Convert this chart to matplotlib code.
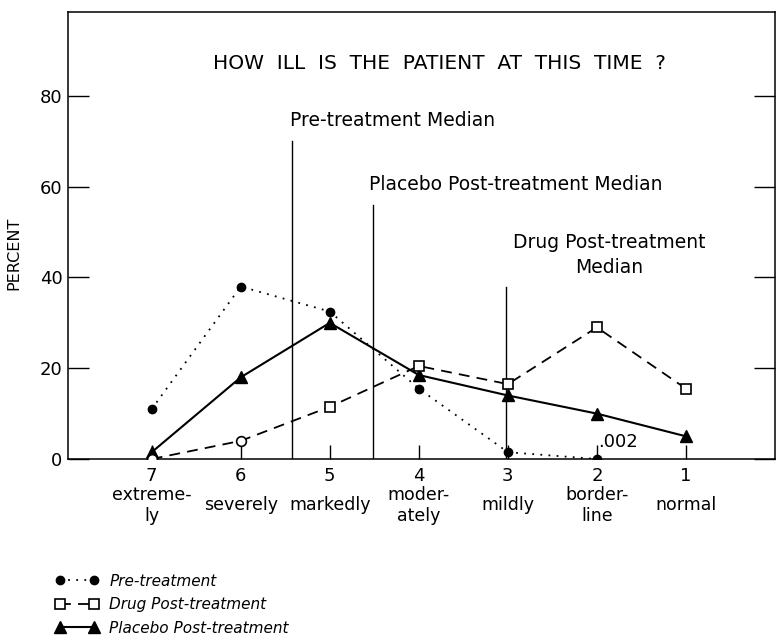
import matplotlib
matplotlib.use("Agg")
import matplotlib.pyplot as plt
from matplotlib.lines import Line2D
from matplotlib.transforms import blended_transform_factory

plt.rcParams['font.family'] = ['DejaVu Sans']

# ---- data ----
severity = [7, 6, 5, 4, 3, 2, 1]
tick_labels = ["7", "6", "5", "4", "3", "2", "1"]
categories = ["extreme-\nly", "severely", "markedly", "moder-\nately", "mildly", "border-\nline", "normal"]

pre_x = [7, 6, 5, 4, 3, 2]
pre_vals = [11, 38, 32.5, 15.5, 1.5, 0]

drug_vals = [0, 4, 11.5, 20.5, 16.5, 29, 15.5]
placebo_vals = [1.5, 18, 30, 18.5, 14, 10, 5]

medians = [5.42, 4.52, 3.02]          # pre, placebo, drug
median_tops = [70, 56, 38]
median_labels = ["Pre-treatment Median", "Placebo Post-treatment Median", "Drug Post-treatment\nMedian"]

yticks = [0, 20, 40, 60, 80]

# drug points drawn as open circles (first two) and open squares (rest), as in the original
drug_circle_idx = [0, 1]
drug_square_idx = [2, 3, 4, 5, 6]

fig = plt.figure(figsize=(7.77, 6.44), dpi=100)
ax = fig.add_axes([68/777, 1-459/644, (775-68)/777, (459-12)/644])

ax.set_xlim(7.94, 0.0)
ax.set_ylim(0, 98.5)

l_pre, = ax.plot(pre_x, pre_vals, linestyle=(0, (1, 3.5)), color='black', lw=1.3,
                 marker='o', markersize=6, markerfacecolor='black', label='Pre-treatment', zorder=3)

drug_style = dict(color='black', lw=1.3, linestyle=(0, (6, 4)))
ax.plot(severity, drug_vals, zorder=4, **drug_style)
ax.plot([severity[i] for i in drug_square_idx], [drug_vals[i] for i in drug_square_idx],
        linestyle='none', marker='s', markersize=6.5, markerfacecolor='white',
        markeredgecolor='black', markeredgewidth=1.2, zorder=5)
ax.plot([severity[i] for i in drug_circle_idx], [drug_vals[i] for i in drug_circle_idx],
        linestyle='none', marker='o', markersize=7, markerfacecolor='white',
        markeredgecolor='black', markeredgewidth=1.2, zorder=5)
l_drug = Line2D([], [], marker='s', markersize=6.5, markerfacecolor='white',
                markeredgecolor='black', markeredgewidth=1.2, label='Drug Post-treatment', **drug_style)

l_pla, = ax.plot(severity, placebo_vals, linestyle='-', color='black', lw=1.5,
                 marker='^', markersize=9, markerfacecolor='black', label='Placebo Post-treatment', zorder=3)

for m, top in zip(medians, median_tops):
    ax.plot([m, m], [0, top], color='black', lw=1.0, zorder=2)

ax.text(5.45, 72.5, median_labels[0], ha='left', va='bottom', fontsize=13.5)
ax.text(4.56, 58.5, median_labels[1], ha='left', va='bottom', fontsize=13.5)
ax.text(1.86, 40.0, median_labels[2], ha='center', va='bottom', fontsize=13.5, linespacing=1.45)

ax.text(1.99, 1.8, ".002", ha='left', va='bottom', fontsize=13)

ax.text(3.77, 87.2, "HOW  ILL  IS  THE  PATIENT  AT  THIS  TIME  ?",
        ha='center', va='center', fontsize=14.5)

ax.set_xticks(severity)
ax.set_xticklabels(tick_labels, fontsize=13)
ax.set_yticks(yticks)
ax.set_yticklabels([str(v) for v in yticks], fontsize=13)
ax.tick_params(axis='y', direction='in', length=15, width=1.0, right=True, pad=4)
ax.tick_params(axis='x', direction='in', length=10, width=1.0, pad=6)

trans = blended_transform_factory(ax.transData, ax.transAxes)
for xv, cat in zip(severity, categories):
    ax.text(xv, -0.104, cat, transform=trans, ha='center', va='center', fontsize=12.5, linespacing=1.15)

ax.set_ylabel("PERCENT", fontsize=11.5)
ax.yaxis.set_label_coords(-0.066, 0.46)

for sp in ax.spines.values():
    sp.set_linewidth(1.1)

fig.legend(handles=[l_pre, l_drug, l_pla], loc='upper left', bbox_to_anchor=(42/777, 1-560/644),
           frameon=False, numpoints=2, handlelength=2.8, handletextpad=0.7,
           labelspacing=0.55, prop={'style': 'italic', 'size': 11})

fig.savefig("out.png", dpi=100)
